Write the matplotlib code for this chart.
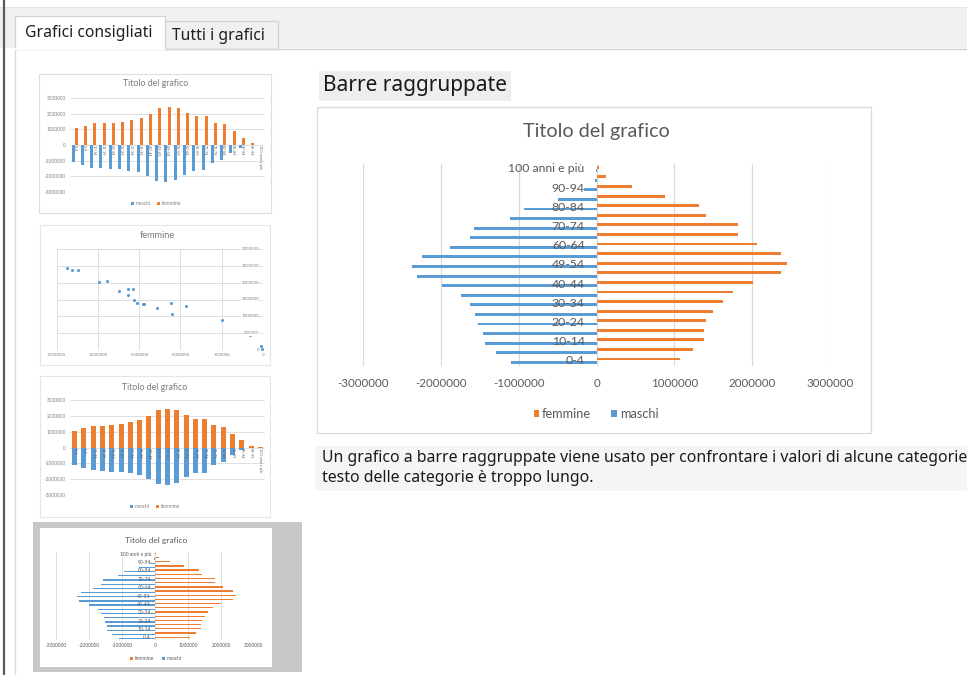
import matplotlib
matplotlib.use("Agg")
import matplotlib.pyplot as plt
from matplotlib.patches import Rectangle
import numpy as np

# ---------------- data ----------------
eta = ["0-4", "5-9", "10-14", "15-19", "20-24", "25-29", "30-34", "35-39", "40-44", "45-49",
       "49-54", "55-59", "60-64", "65-69", "70-74", "75-79", "80-84", "85-89", "90-94", "95-99",
       "100 anni e più"]
femmine = [1070000, 1240000, 1380000, 1380000, 1410000, 1500000, 1620000, 1750000, 2010000, 2370000,
           2450000, 2370000, 2060000, 1820000, 1820000, 1410000, 1320000, 880000, 460000, 124000, 30000]
maschi = [-1100000, -1290000, -1440000, -1460000, -1530000, -1560000, -1630000, -1740000, -1990000, -2310000,
          -2370000, -2240000, -1890000, -1630000, -1580000, -1120000, -930000, -500000, -160000, -26000, -10000]
serie = ["femmine", "maschi"]
tick_pyr = [-3000000, -2000000, -1000000, 0, 1000000, 2000000, 3000000]
tick_sc_x = [-2500000, -2000000, -1500000, -1000000, -500000, 0]
tick_sc_y = [0, 500000, 1000000, 1500000, 2000000, 2500000, 3000000]
titolo = "Titolo del grafico"
tab_labels = ["Grafici consigliati", "Tutti i grafici"]
intestazione = "Barre raggruppate"
descrizione = ["Un grafico a barre raggruppate viene usato per confrontare i valori di alcune categorie",
               "testo delle categorie è troppo lungo."]

ORANGE = "#ED7D31"
BLUE = "#5B9BD5"
TXT = "#595959"
GRID = "#d9d9d9"
CF = ["Lato", "DejaVu Sans"]
UF = ["Noto Sans", "DejaVu Sans"]

W, H = 967, 675
fig = plt.figure(figsize=(W / 100, H / 100), dpi=100)
fig.patch.set_facecolor("white")


def frect(x0, y0, x1, y1):
    return [x0 / W, 1 - y1 / H, (x1 - x0) / W, (y1 - y0) / H]


def fp(x, y):
    return x / W, 1 - y / H


# ---------------- background UI ----------------
bg = fig.add_axes([0, 0, 1, 1], zorder=0)
bg.set_xlim(0, W)
bg.set_ylim(H, 0)
bg.axis("off")
bg.add_patch(Rectangle((0, 7), W, 41, fc="#eff0f1", ec="none"))
bg.plot([0, W], [7, 7], color="#e4e4e4", lw=0.8)
bg.plot([15, W], [48.5, 48.5], color="#d2d2d2", lw=1.0)
bg.plot([15, 15], [48.5, H], color="#dcdcdc", lw=1.0)
bg.plot([3.5, 3.5], [0, H], color="#5a5a5a", lw=1.6)
# tabs
bg.add_patch(Rectangle((165, 21), 113, 27.5, fc="#eff0f1", ec="#d2d2d2", lw=0.9))
bg.add_patch(Rectangle((15, 16), 150, 33, fc="white", ec="#d2d2d2", lw=0.9))
bg.plot([15.6, 164.4], [48.5, 48.5], color="white", lw=1.6)
bg.text(25, 33, tab_labels[0], fontsize=11.3, family=UF, color="#1e1e1e", va="center", ha="left")
bg.text(172, 36, tab_labels[1], fontsize=11.3, family=UF, color="#1e1e1e", va="center", ha="left")

# thumbnail boxes
bg.add_patch(Rectangle((39, 74), 232, 139, fc="white", ec="#dedede", lw=0.8))
bg.add_patch(Rectangle((40, 225), 230, 140, fc="white", ec="#e6e6e6", lw=0.8))
bg.add_patch(Rectangle((40, 376), 230, 141, fc="white", ec="#e6e6e6", lw=0.8))
bg.add_patch(Rectangle((33, 522), 269, 150, fc="#c7c8c9", ec="none"))
bg.add_patch(Rectangle((40, 528), 232, 139, fc="white", ec="none"))

# main chart box and texts
bg.add_patch(Rectangle((317, 107), 554, 326, fc="white", ec="#dadada", lw=0.9))
bg.add_patch(Rectangle((315, 446), W - 315, 45, fc="#f5f5f5", ec="none"))
bg.text(323, 86, intestazione, fontsize=15, family=UF, color="#1a1a1a", va="center", ha="left",
        bbox=dict(boxstyle="square,pad=0.2", fc="#eeeeee", ec="none"))
bg.text(322, 458, descrizione[0], fontsize=11.4, family=UF, color="#1a1a1a", va="center", ha="left")
bg.text(322, 478, descrizione[1], fontsize=11.4, family=UF, color="#1a1a1a", va="center", ha="left")


# ---------------- chart builders ----------------
def pyramid(rect_px, cx, title_y, legend_y, fs_title, fs_tick, fs_cat, fs_leg, tick_pad, cat_gap,
            bar_h, off, lw_grid, leg_h):
    ax = fig.add_axes(frect(*rect_px), zorder=2)
    ax.set_facecolor("none")
    y = np.arange(len(eta))
    b1 = ax.barh(y + off, femmine, height=bar_h, color=ORANGE, label=serie[0], zorder=2)
    b2 = ax.barh(y - off, maschi, height=bar_h, color=BLUE, label=serie[1], zorder=2)
    ax.set_xlim(tick_pyr[0], tick_pyr[-1])
    ax.set_ylim(-0.5, len(eta) - 0.5)
    ax.set_xticks(tick_pyr)
    ax.set_xticklabels([str(t) for t in tick_pyr], family=CF)
    ax.tick_params(axis="x", length=0, pad=tick_pad, labelsize=fs_tick, labelcolor=TXT)
    ax.set_yticks([])
    for s in ax.spines.values():
        s.set_visible(False)
    ax.grid(axis="x", color=GRID, lw=lw_grid)
    ax.set_axisbelow(True)
    for i in range(0, len(eta), 2):
        ax.annotate(eta[i], xy=(0, i), xytext=(-cat_gap, 0), textcoords="offset pixels",
                    ha="right", va="center", fontsize=fs_cat, color=TXT, family=CF, zorder=4)
    fig.text(*fp(cx, title_y), titolo, ha="center", va="center", fontsize=fs_title, color=TXT, family=CF)
    leg = ax.legend(handles=[b1, b2], loc="center", bbox_to_anchor=fp(cx, legend_y),
                    bbox_transform=fig.transFigure, ncol=2, frameon=False,
                    handlelength=leg_h, handleheight=leg_h, handletextpad=0.25, columnspacing=1.6,
                    prop=dict(family=CF, size=fs_leg))
    for t in leg.get_texts():
        t.set_color(TXT)
    return ax


def columns(rect_px, cx, title_y, legend_y, stacked):
    ax = fig.add_axes(frect(*rect_px), zorder=2)
    ax.set_facecolor("none")
    x = np.arange(len(eta))
    if stacked:
        b1 = ax.bar(x, maschi, width=0.55, color=BLUE, label=serie[1], zorder=2)
        b2 = ax.bar(x, femmine, width=0.55, color=ORANGE, label=serie[0], zorder=2)
    else:
        b1 = ax.bar(x - 0.17, maschi, width=0.32, color=BLUE, label=serie[1], zorder=2)
        b2 = ax.bar(x + 0.17, femmine, width=0.32, color=ORANGE, label=serie[0], zorder=2)
    ax.set_ylim(tick_pyr[0], tick_pyr[-1])
    ax.set_xlim(-0.5, len(eta) - 0.5)
    ax.set_yticks(tick_pyr)
    ax.set_yticklabels([str(t) for t in tick_pyr], family=CF)
    ax.tick_params(axis="y", length=0, pad=3, labelsize=3.4, labelcolor="#808080")
    ax.set_xticks([])
    for s in ax.spines.values():
        s.set_visible(False)
    ax.grid(axis="y", color=GRID, lw=0.6)
    ax.set_axisbelow(True)
    for i, lab in enumerate(eta):
        ax.text(i, 0, lab, rotation=-90, ha="center", va="top", fontsize=2.8, color="#666666",
                family=CF, zorder=4)
    fig.text(*fp(cx, title_y), titolo, ha="center", va="center", fontsize=6.3, color="#7a7a7a", family=CF)
    leg = ax.legend(handles=[b1, b2], loc="center", bbox_to_anchor=fp(cx, legend_y),
                    bbox_transform=fig.transFigure, ncol=2, frameon=False,
                    handlelength=0.6, handleheight=0.6, handletextpad=0.3, columnspacing=1.2,
                    prop=dict(family=CF, size=3.6))
    for t in leg.get_texts():
        t.set_color("#808080")
    return ax


def scatter_thumb(rect_px, cx, title_y):
    ax = fig.add_axes(frect(*rect_px), zorder=2)
    ax.set_facecolor("none")
    ax.scatter(maschi, femmine, s=5, color=BLUE, zorder=3, linewidths=0)
    ax.set_xlim(tick_sc_x[0], tick_sc_x[-1])
    ax.set_ylim(tick_sc_y[0], tick_sc_y[-1])
    ax.set_xticks(tick_sc_x)
    ax.set_xticklabels([str(t) for t in tick_sc_x], family=CF)
    ax.set_yticks(tick_sc_y)
    ax.set_yticklabels([])
    ax.tick_params(axis="both", length=0, labelsize=3.2, labelcolor="#808080", pad=2)
    for s in ax.spines.values():
        s.set_visible(False)
    ax.grid(True, color=GRID, lw=0.6)
    ax.set_axisbelow(True)
    for v in tick_sc_y:
        ax.annotate(str(v), xy=(0, v), xytext=(-4, 0), textcoords="offset pixels", ha="right",
                    va="center", fontsize=3.2, color="#808080", family=CF,
                    bbox=dict(boxstyle="square,pad=0.1", fc="white", ec="none"))
    fig.text(*fp(cx, title_y), serie[0], ha="center", va="center", fontsize=6.6, color="#7a7a7a", family=CF)
    return ax


# ---------------- draw ----------------
pyramid((363.3, 164.2, 830, 365.5), 596, 131.5, 414, 14.2, 8.3, 8.8, 9.2, 9, 12, 0.3, 0.174, 0.9, 0.4)
columns((70, 98, 265, 192), 156, 84, 204, stacked=False)
scatter_thumb((56.7, 249, 263, 350), 157, 236)
columns((70, 400, 265, 495), 155, 388, 507, stacked=True)
pyramid((56, 552, 254, 640), 156, 540, 659, 6.0, 3.5, 3.6, 3.6, 2.5, 4, 0.3, 0.174, 0.6, 0.6)

fig.savefig("out.png", dpi=100, facecolor="white")
